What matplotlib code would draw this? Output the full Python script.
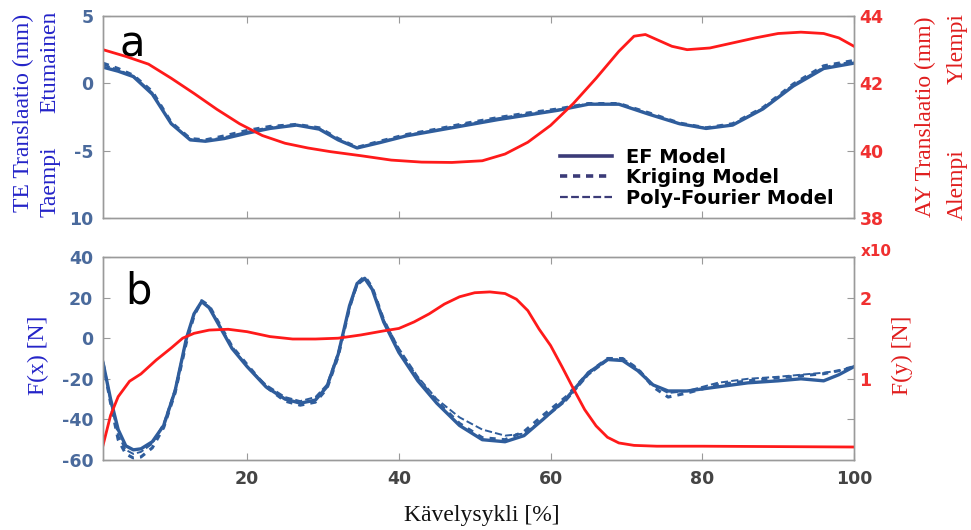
import numpy as np
import matplotlib
matplotlib.use("Agg")
import matplotlib.pyplot as plt
from matplotlib.lines import Line2D

plt.rcParams['axes.unicode_minus'] = False

# ---- panel a: TE translation (left axis, mm) ----
x_te = [1, 3, 5, 7.5, 10, 12.5, 14.5, 17, 20, 23, 26.5, 29.5, 32, 34.5, 37.5, 41, 45, 49,
        53, 57, 61, 65, 69, 73, 77, 80.5, 84, 88, 92, 96, 100]
te_ef = [1.2, 0.9, 0.5, -0.8, -3.0, -4.2, -4.3, -4.1, -3.7, -3.35, -3.1, -3.4, -4.2, -4.8, -4.4,
         -3.9, -3.5, -3.1, -2.7, -2.35, -2.0, -1.55, -1.55, -2.3, -3.0, -3.35, -3.1, -1.9, -0.2, 1.1, 1.5]
te_krig = [1.5, 1.1, 0.6, -0.6, -2.9, -4.1, -4.2, -3.9, -3.5, -3.2, -3.05, -3.3, -4.1, -4.75, -4.3,
           -3.8, -3.4, -2.95, -2.55, -2.2, -1.9, -1.5, -1.5, -2.2, -2.95, -3.3, -3.0, -1.8, -0.05, 1.3, 1.7]
te_poly = [1.4, 1.0, 0.55, -0.7, -3.0, -4.15, -4.25, -4.0, -3.6, -3.25, -3.1, -3.35, -4.15, -4.8, -4.35,
           -3.85, -3.45, -3.0, -2.6, -2.25, -1.95, -1.5, -1.55, -2.25, -3.0, -3.3, -3.05, -1.85, -0.1, 1.2, 1.65]

# AY translation (right axis, mm)
x_ay = [1, 4, 7, 10, 13, 16, 19, 22, 25, 28, 31, 35, 39, 43, 47, 51, 54, 57, 60, 63, 66, 69, 71,
        72.5, 74, 76, 78, 81, 84, 87, 90, 93, 96, 98, 100]
ay = [43.0, 42.8, 42.57, 42.15, 41.7, 41.23, 40.8, 40.45, 40.22, 40.08, 39.97, 39.85, 39.72, 39.66,
      39.65, 39.7, 39.9, 40.25, 40.75, 41.4, 42.15, 42.95, 43.4, 43.45, 43.3, 43.1, 43.0, 43.05, 43.2,
      43.35, 43.48, 43.52, 43.48, 43.35, 43.1]

# ---- panel b: F(x) (left axis, N) ----
x_fx = [1, 2, 3, 4, 5, 6, 7.5, 9, 10.5, 12, 13, 14, 15, 16.5, 18, 20, 22.5, 25, 27, 29, 30.5, 32,
        33.5, 34.5, 35.5, 36.5, 38, 40, 42.5, 45, 48, 51, 54, 56.5, 59, 62, 65, 67.5, 69.5, 71.5,
        73.5, 75.5, 78, 82, 86, 90, 93, 96, 98, 100]
fx_ef = [-12, -30, -45, -53, -55, -54.5, -51, -43, -26, 0, 12, 18, 15, 5, -5, -14, -24, -30, -32,
         -30.5, -24, -8, 16, 27, 29.5, 24, 8, -7, -21, -32, -43, -50, -51, -48, -40, -30, -17, -10.5,
         -11, -16, -23, -26, -26, -24, -22, -21, -20, -21, -18, -14]
fx_krig = [-12, -32, -50, -57, -59, -58.5, -54, -44, -27, -2, 11, 18.5, 16, 6, -4, -13, -24, -31, -33,
           -31.5, -25, -9, 15, 27, 30.5, 25, 9, -6, -20, -31, -42, -49, -50, -46, -38, -29, -17, -10,
           -10, -15, -24, -29, -27, -23, -21, -19.5, -18.5, -17.5, -16, -14]
fx_poly = [-12, -31, -48, -55, -57, -56, -52, -42, -25, 0, 12, 18, 15.5, 5.5, -4, -14, -23, -29, -31,
           -29, -23, -7, 15, 26, 29, 25, 9, -5, -19, -30, -39, -45, -48, -47, -40, -31, -18, -11,
           -10, -15, -23, -27, -26, -22, -20, -19, -18, -17, -16, -14]

# F(y) (right axis, x10)
x_fy = [1, 2, 3, 4.5, 6, 8, 10, 11.5, 13, 15, 17.5, 20, 23, 26, 29, 32, 35, 38, 40, 42, 44, 46, 48,
        50, 52, 54, 55.5, 57, 58.5, 60, 61.5, 63, 64.5, 66, 67.5, 69, 71, 74, 80, 90, 100]
fy = [0.18, 0.55, 0.78, 0.97, 1.06, 1.23, 1.38, 1.50, 1.56, 1.60, 1.61, 1.58, 1.52, 1.49, 1.49, 1.50,
      1.54, 1.59, 1.62, 1.70, 1.80, 1.92, 2.01, 2.06, 2.07, 2.05, 1.98, 1.84, 1.61, 1.41, 1.15, 0.88,
      0.62, 0.42, 0.28, 0.21, 0.18, 0.17, 0.17, 0.165, 0.16]

blue = '#2f5d9c'
red = '#ff1a1a'
navy = '#3b3b78'
spine_c = '#9a9a9a'
W, H = 971, 530

fig = plt.figure(figsize=(W / 100, H / 100), dpi=100)
ax1 = fig.add_axes([103 / W, 1 - 218 / H, 751 / W, 202 / H])
ax2 = ax1.twinx()
ax3 = fig.add_axes([103 / W, 1 - 460 / H, 751 / W, 203 / H])
ax4 = ax3.twinx()

ax1.plot(x_te, te_ef, '-', color=blue, lw=2.4)
ax1.plot(x_te, te_krig, color=blue, lw=2.2, ls=(0, (2, 2)))
ax1.plot(x_te, te_poly, '--', color=blue, lw=1.4)
ax2.plot(x_ay, ay, '-', color=red, lw=2)

ax3.plot(x_fx, fx_ef, '-', color=blue, lw=2.4)
ax3.plot(x_fx, fx_krig, color=blue, lw=2.2, ls=(0, (2, 2)))
ax3.plot(x_fx, fx_poly, '--', color=blue, lw=1.4)
ax4.plot(x_fy, fy, '-', color=red, lw=2)

tick_font = dict(family='DejaVu Sans', weight='bold', size=12.5)

for ax in (ax1, ax3):
    ax.set_xlim(1, 100)
    ax.set_xticks([20, 40, 60, 80, 100])
    ax.tick_params(axis='x', direction='in', top=True, length=5, color=spine_c, pad=7,
                   labelcolor='#444444')
    ax.tick_params(axis='y', direction='in', length=5, color=spine_c, pad=7, labelcolor='#4a6a9c')
ax1.set_xticklabels([])
ax3.set_xticklabels(['20', '40', '60', '80', '100'], **tick_font)

for ax in (ax2, ax4):
    ax.tick_params(axis='y', direction='in', length=5, color=spine_c, pad=4, labelcolor='#f03030')

ax1.set_ylim(-10, 5)
ax1.set_yticks([-10, -5, 0, 5])
ax1.set_yticklabels(['10', '-5', '0', '5'], **tick_font)
ax2.set_ylim(38, 44)
ax2.set_yticks([38, 40, 42, 44])
ax2.set_yticklabels(['38', '40', '42', '44'], **tick_font)
ax3.set_ylim(-60, 40)
ax3.set_yticks([-60, -40, -20, 0, 20, 40])
ax3.set_yticklabels(['-60', '-40', '-20', '0', '20', '40'], **tick_font)
ax4.set_ylim(0, 2.5)
ax4.set_yticks([0.5, 1, 1.5, 2])
ax4.set_yticklabels(['', '1', '', '2'], **tick_font)

for ax in (ax1, ax2, ax3, ax4):
    for s in ax.spines.values():
        s.set_color(spine_c)
        s.set_linewidth(1)

# panel letters
ax1.text(0.022, 0.80, 'a', transform=ax1.transAxes, fontsize=30, color='black')
ax3.text(0.030, 0.77, 'b', transform=ax3.transAxes, fontsize=30, color='black')

# legend (proxy handles styled like the reference legend)
handles = [Line2D([], [], color=navy, lw=2.6, ls='-'),
           Line2D([], [], color=navy, lw=2.6, ls=(0, (2, 1.6))),
           Line2D([], [], color=navy, lw=1.6, ls=(0, (3.5, 1.5)))]
ax1.legend(handles, ['EF Model', 'Kriging Model', 'Poly-Fourier Model'], loc='upper left',
           bbox_to_anchor=(447 / 751, 1 - 122 / 202), frameon=False, handlelength=2.7,
           handletextpad=0.7, labelspacing=0.08, borderpad=0,
           prop=dict(family='DejaVu Sans', weight='bold', size=14))

# axis labels (serif, placed like the reference)
serif = ['Liberation Serif', 'DejaVu Serif']
lab_blue = '#2424c8'
lab_red = '#e01e1e'
fs = 17
fig.text(23 / W, 1 - 113 / H, 'TE Translaatio (mm)', rotation=90, ha='center', va='center',
         family=serif, fontsize=fs, color=lab_blue)
fig.text(50 / W, 1 - 182 / H, 'Taempi', rotation=90, ha='center', va='center',
         family=serif, fontsize=fs, color=lab_blue)
fig.text(50 / W, 1 - 62 / H, 'Etumainen', rotation=90, ha='center', va='center',
         family=serif, fontsize=fs, color=lab_blue)
fig.text(925 / W, 1 - 117 / H, 'AY Translaatio (mm)', rotation=90, ha='center', va='center',
         family=serif, fontsize=fs, color=lab_red)
fig.text(957 / W, 1 - 48 / H, 'Ylempi', rotation=90, ha='center', va='center',
         family=serif, fontsize=fs, color=lab_red)
fig.text(957 / W, 1 - 185 / H, 'Alempi', rotation=90, ha='center', va='center',
         family=serif, fontsize=fs, color=lab_red)
fig.text(38 / W, 1 - 355 / H, 'F(x) [N]', rotation=90, ha='center', va='center',
         family=serif, fontsize=fs, color=lab_blue)
fig.text(902 / W, 1 - 355 / H, 'F(y) [N]', rotation=90, ha='center', va='center',
         family=serif, fontsize=fs, color=lab_red)
fig.text(876 / W, 1 - 252 / H, 'x10', ha='center', va='center',
         family='DejaVu Sans', weight='bold', fontsize=11, color='#f03030')
fig.text(482 / W, 1 - 516 / H, 'Kävelysykli [%]', ha='center', va='center',
         family=serif, fontsize=fs, color='#111111')

fig.savefig('out.png', dpi=100)
